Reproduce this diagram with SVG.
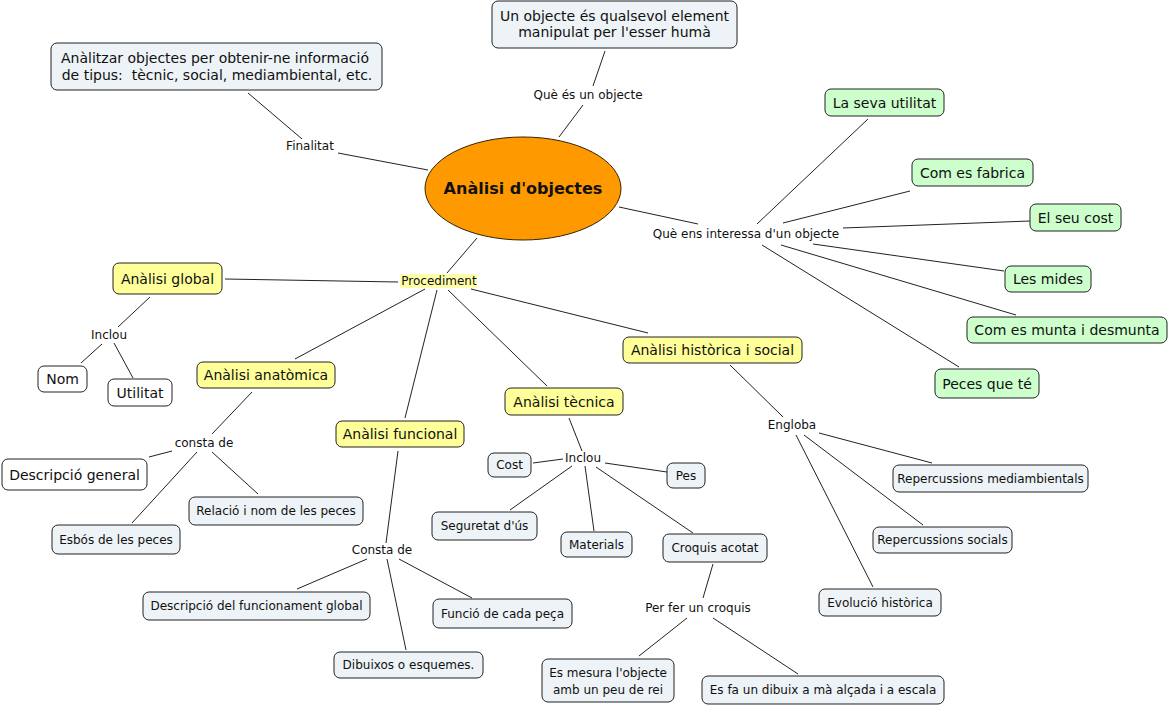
<svg xmlns="http://www.w3.org/2000/svg" width="1170" height="706" viewBox="0 0 1170 706">
<style>
text{font-family:"DejaVu Sans","Verdana",sans-serif;fill:#111;text-anchor:middle}
.b{stroke:#222;stroke-width:1}
.lb{fill:#EDF3F6}
.gr{fill:#CCFFCC}
.ye{fill:#FFFF99}
.wh{fill:#FFFFFF}
.t14{font-size:14px}
.t12{font-size:12px}
.lbl{font-size:12px}
.title{font-size:16px;font-weight:bold}
#connectors path{stroke:#222;stroke-width:1;fill:none}
</style>
<rect width="1170" height="706" fill="#fff"/>
<g id="connectors">
<path d="M248,93 L302,139 M338,153 L428,170"/>
<path d="M605,51 L593,86 M583,105 L559,137"/>
<path d="M619,207 L698,224"/>
<path d="M757,224 L868,119 M783,223 L910,191 M843,228 L1030,221 M813,244 L1004,271 M781,245 L1016,315 M762,245 L959,367"/>
<path d="M477,238 L447,273"/>
<path d="M225,279 L398,282 M425,289 L295,359 M437,290 L405,418 M448,290 L547,386 M471,289 L648,333"/>
<path d="M150,297 L118,327 M102,344 L81,363 M114,343 L133,378"/>
<path d="M252,392 L212,434 M172,451 L149,457 M197,452 L132,523 M212,452 L258,494"/>
<path d="M398,451 L386,543 M367,559 L297,589 M399,559 L472,598 M387,559 L406,650"/>
<path d="M569,418 L582,451 M563,459 L533,463 M605,463 L667,472 M572,466 L510,510 M585,466 L594,531 M596,467 L693,533"/>
<path d="M713,564 L703,598 M687,618 L639,656 M713,618 L798,674"/>
<path d="M730,365 L783,417 M819,433 L932,463 M804,435 L923,525 M796,435 L873,587"/>
</g>
<g id="labels">
<text class="lbl" x="310" y="150">Finalitat</text>
<text class="lbl" x="588" y="99">Què és un objecte</text>
<text class="lbl" x="746" y="238">Què ens interessa d'un objecte</text>
<rect x="400" y="274" width="77" height="14" fill="#FFFFAA"/>
<text class="lbl" x="439" y="285">Procediment</text>
<text class="lbl" x="109" y="339">Inclou</text>
<text class="lbl" x="204" y="447">consta de</text>
<text class="lbl" x="382" y="554">Consta de</text>
<text class="lbl" x="583" y="462">Inclou</text>
<text class="lbl" x="698" y="612">Per fer un croquis</text>
<text class="lbl" x="792" y="429">Engloba</text>
</g>
<g id="n_center">
<ellipse cx="523" cy="188.5" rx="98" ry="51.5" fill="#FF9900" stroke="#332200" stroke-width="1"/>
<text class="title" x="523" y="194">Anàlisi d'objectes</text>
</g>
<g id="n_finalitat">
<rect class="b lb" x="51" y="43" width="331" height="47" rx="6"/>
<text class="t14" x="215" y="63">Anàlitzar objectes per obtenir-ne informació</text>
<text class="t14" x="217" y="80" xml:space="preserve" style="white-space:pre">de tipus:  tècnic, social, mediambiental, etc.</text>
</g>
<g id="n_objecte">
<rect class="b lb" x="492" y="1" width="245" height="47" rx="6"/>
<text class="t14" x="614.5" y="21">Un objecte és qualsevol element</text>
<text class="t14" x="614.5" y="37">manipulat per l'esser humà</text>
</g>
<g id="n_utilitat"><rect class="b gr" x="825" y="89" width="119" height="27" rx="6"/><text class="t14" x="884.5" y="107.5">La seva utilitat</text></g>
<g id="n_fabrica"><rect class="b gr" x="912" y="159" width="121" height="27" rx="6"/><text class="t14" x="972.5" y="177.5">Com es fabrica</text></g>
<g id="n_cost_g"><rect class="b gr" x="1030" y="204" width="91" height="27" rx="6"/><text class="t14" x="1075.5" y="222.5">El seu cost</text></g>
<g id="n_mides"><rect class="b gr" x="1005" y="266" width="86" height="26" rx="6"/><text class="t14" x="1048" y="284">Les mides</text></g>
<g id="n_munta"><rect class="b gr" x="967" y="317" width="200" height="26" rx="6"/><text class="t14" x="1067" y="335">Com es munta i desmunta</text></g>
<g id="n_peces"><rect class="b gr" x="935" y="369" width="104" height="29" rx="6"/><text class="t14" x="987" y="388.5">Peces que té</text></g>
<g id="n_historica"><rect class="b ye" x="623" y="337" width="179" height="26" rx="6"/><text class="t14" x="712.5" y="355">Anàlisi històrica i social</text></g>
<g id="n_global"><rect class="b ye" x="113" y="263" width="109" height="31" rx="6"/><text class="t14" x="167.5" y="283.5">Anàlisi global</text></g>
<g id="n_nom"><rect class="b wh" x="38" y="366" width="49" height="26" rx="6"/><text class="t14" x="62.5" y="384">Nom</text></g>
<g id="n_util"><rect class="b wh" x="108" y="379" width="64" height="27" rx="6"/><text class="t14" x="140" y="397.5">Utilitat</text></g>
<g id="n_anatomica"><rect class="b ye" x="197" y="362" width="138" height="26" rx="6"/><text class="t14" x="266" y="380">Anàlisi anatòmica</text></g>
<g id="n_descgen"><rect class="b wh" x="2" y="459" width="145" height="31" rx="6"/><text class="t14" x="74.5" y="479.5">Descripció general</text></g>
<g id="n_esbos"><rect class="b lb" x="52" y="525" width="128" height="29" rx="6"/><text class="t12" x="116" y="543.5">Esbós de les peces</text></g>
<g id="n_relacio"><rect class="b lb" x="189" y="497" width="174" height="28" rx="6"/><text class="t12" x="276" y="515">Relació i nom de les peces</text></g>
<g id="n_funcional"><rect class="b ye" x="336" y="421" width="128" height="26" rx="6"/><text class="t14" x="400" y="439">Anàlisi funcional</text></g>
<g id="n_descfunc"><rect class="b lb" x="143" y="592" width="227" height="28" rx="6"/><text class="t12" x="256.5" y="610">Descripció del funcionament global</text></g>
<g id="n_funcio"><rect class="b lb" x="433" y="599" width="139" height="29" rx="6"/><text class="t12" x="502.5" y="617.5">Funció de cada peça</text></g>
<g id="n_dibuixos"><rect class="b lb" x="334" y="652" width="149" height="26" rx="6"/><text class="t12" x="408.5" y="669">Dibuixos o esquemes.</text></g>
<g id="n_tecnica"><rect class="b ye" x="505" y="388" width="118" height="27" rx="6"/><text class="t14" x="564" y="406.5">Anàlisi tècnica</text></g>
<g id="n_cost"><rect class="b lb" x="488" y="453" width="43" height="24" rx="6"/><text class="t12" x="509.5" y="469">Cost</text></g>
<g id="n_pes"><rect class="b lb" x="667" y="463" width="38" height="25" rx="6"/><text class="t12" x="686" y="479.5">Pes</text></g>
<g id="n_seguretat"><rect class="b lb" x="432" y="512" width="105" height="28" rx="6"/><text class="t12" x="484.5" y="530">Seguretat d'ús</text></g>
<g id="n_materials"><rect class="b lb" x="561" y="532" width="71" height="25" rx="6"/><text class="t12" x="596.5" y="548.5">Materials</text></g>
<g id="n_croquis"><rect class="b lb" x="663" y="534" width="104" height="28" rx="6"/><text class="t12" x="715" y="552">Croquis acotat</text></g>
<g id="n_mesura"><rect class="b lb" x="542" y="659" width="132" height="43" rx="6"/><text class="t12" x="608" y="677">Es mesura l'objecte</text><text class="t12" x="608" y="694">amb un peu de rei</text></g>
<g id="n_dibuix"><rect class="b lb" x="702" y="676" width="242" height="28" rx="6"/><text class="t12" x="823" y="694">Es fa un dibuix a mà alçada i a escala</text></g>
<g id="n_repmed"><rect class="b lb" x="893" y="465" width="195" height="27" rx="6"/><text class="t12" x="990.5" y="482.5">Repercussions mediambientals</text></g>
<g id="n_repsoc"><rect class="b lb" x="873" y="527" width="139" height="26" rx="6"/><text class="t12" x="942.5" y="544">Repercussions socials</text></g>
<g id="n_evolucio"><rect class="b lb" x="819" y="589" width="122" height="27" rx="6"/><text class="t12" x="880" y="606.5">Evolució històrica</text></g>
</svg>
